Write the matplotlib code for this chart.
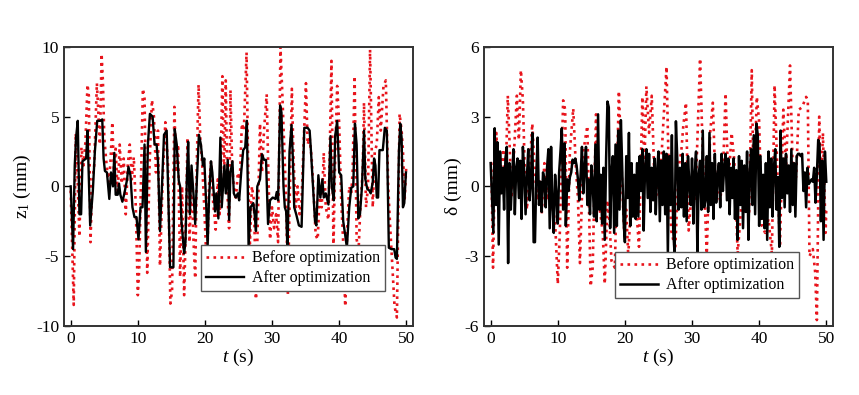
import numpy as np
import matplotlib
matplotlib.use("Agg")
import matplotlib.pyplot as plt

# ---- left panel: z1 (mm) ----
t_z_before = [0.0, 0.45, 0.75, 1.0, 1.3, 1.6, 1.9, 2.2, 2.5, 2.7,
              2.95, 3.2, 3.5, 3.9, 4.15, 4.35, 4.6, 4.8, 5.0, 5.3,
              5.6, 5.9, 6.2, 6.45, 6.7, 7.0, 7.3, 7.6, 7.9, 8.2,
              8.5, 8.8, 9.1, 9.4, 9.7, 10.0, 10.2, 10.45, 10.75, 11.0,
              11.4, 11.75, 12.1, 12.4, 12.7, 13.0, 13.3, 13.7, 14.1, 14.5,
              14.85, 15.1, 15.45, 15.7, 16.0, 16.3, 16.6, 16.9, 17.2, 17.4,
              17.7, 18.0, 18.25, 18.55, 18.8, 19.05, 19.3, 19.6, 19.9, 20.3,
              20.6, 20.9, 21.2, 21.6, 21.9, 22.2, 22.6, 22.85, 23.1, 23.35,
              23.6, 23.8, 24.05, 24.3, 24.6, 24.9, 25.2, 25.5, 25.8, 26.2,
              26.45, 26.7, 27.0, 27.3, 27.6, 27.9, 28.2, 28.5, 28.8, 29.2,
              29.4, 29.7, 30.0, 30.3, 30.6, 30.9, 31.25, 31.5, 31.8, 32.1,
              32.35, 32.7, 32.95, 33.2, 33.5, 33.8, 34.1, 34.4, 34.7, 35.05,
              35.3, 35.6, 35.9, 36.2, 36.5, 36.8, 37.1, 37.4, 37.7, 38.0,
              38.4, 38.85, 39.15, 39.4, 39.7, 40.0, 40.3, 40.6, 40.9, 41.2,
              41.5, 41.8, 42.0, 42.3, 42.6, 42.9, 43.2, 43.5, 43.7, 44.0,
              44.3, 44.6, 45.0, 45.3, 45.6, 45.9, 46.2, 46.6, 46.95, 47.3,
              47.6, 47.9, 48.25, 48.6, 49.0, 49.3, 49.5, 49.75, 50.0]
z_before = [-0.3, -8.5, 3.8, 0.9, -3.6, 2.8, 1.5, 3.2, 7.3, 6.5,
            -4.0, 0.2, 1.5, 7.4, 5.0, 3.0, 9.5, 7.5, 3.5, 1.8,
            0.3, 1.5, 4.6, 1.0, 2.7, -0.6, 3.0, 0.2, 2.0, -2.0,
            1.5, 3.0, 0.5, 2.1, -1.5, -7.8, -6.0, 0.0, 7.0, 6.3,
            -6.2, 1.5, 6.2, 5.0, 1.0, 4.0, -5.7, 0.5, 4.6, 1.5,
            -8.4, -7.5, 5.7, 1.0, 3.0, -6.5, 0.0, -7.8, -2.0, 3.5,
            -4.0, 1.0, -3.4, -6.6, 2.0, 7.3, 3.5, 1.5, -1.5, -6.2,
            0.0, 1.8, -1.0, -3.1, 0.5, -2.0, 7.9, 0.5, 7.6, -0.5,
            -3.0, 6.9, 1.5, 0.0, -1.0, 1.0, 0.5, 4.5, 4.0, 9.6,
            1.0, -4.1, 0.0, -1.0, -8.1, -2.0, 4.5, 1.0, 4.0, 6.6,
            2.0, -3.8, -1.5, -3.0, -2.0, -4.0, 10.0, 7.0, 3.0, -1.0,
            -7.8, 1.0, 7.0, 2.0, -1.5, 0.0, -2.0, -1.0, 3.0, 7.4,
            3.0, 3.5, 2.0, -0.5, -3.5, -3.8, -0.5, -1.5, 2.4, -1.5,
            -2.4, 9.0, -4.4, 2.0, 7.2, 4.5, -1.0, -4.0, -8.6, -3.0,
            0.0, -0.5, 1.0, 7.9, -3.8, -4.5, -1.0, 1.0, 6.0, -1.5,
            0.0, 9.8, -1.5, 2.5, 3.0, 6.4, 4.0, 7.2, 7.6, 0.0,
            -2.9, -5.5, -8.6, -9.4, 5.2, 4.0, 2.6, -1.0, 1.5]

t_z_after = [0.0, 0.35, 0.6, 0.8, 1.05, 1.3, 1.55, 1.75, 2.3, 2.5,
             2.9, 3.3, 3.6, 3.95, 4.4, 4.7, 4.9, 5.1, 5.4, 5.75,
             6.0, 6.3, 6.5, 6.7, 7.0, 7.2, 7.4, 7.7, 8.0, 8.4,
             8.6, 8.9, 9.2, 9.5, 9.8, 10.1, 10.4, 10.7, 11.0, 11.2,
             11.5, 11.8, 12.2, 12.5, 12.8, 13.0, 13.3, 13.6, 13.9, 14.3,
             14.6, 14.8, 15.3, 15.5, 15.8, 16.1, 16.3, 16.5, 16.9, 17.1,
             17.3, 17.5, 17.75, 18.0, 18.3, 18.55, 18.8, 19.1, 19.4, 19.7,
             19.9, 20.2, 20.4, 20.6, 20.9, 21.1, 21.5, 21.7, 22.0, 22.3,
             22.5, 22.7, 22.9, 23.1, 23.4, 23.6, 23.8, 24.1, 24.3, 24.6,
             24.9, 25.1, 25.4, 25.7, 26.0, 26.25, 26.5, 26.8, 27.2, 27.4,
             27.6, 27.8, 28.2, 28.5, 28.8, 29.1, 29.4, 29.7, 30.1, 30.5,
             30.7, 30.9, 31.2, 31.4, 31.7, 31.9, 32.1, 32.3, 32.6, 32.9,
             33.1, 33.3, 33.6, 34.0, 34.4, 34.8, 35.3, 35.6, 35.8, 36.1,
             36.4, 36.6, 36.9, 37.2, 37.5, 37.7, 38.0, 38.4, 38.7, 38.9,
             39.2, 39.4, 39.7, 40.0, 40.3, 40.6, 40.9, 41.15, 41.5, 41.8,
             42.1, 42.35, 42.6, 42.85, 43.1, 43.4, 43.7, 43.9, 44.2, 44.5,
             44.7, 45.0, 45.2, 45.4, 45.6, 45.8, 46.0, 46.5, 46.8, 47.1,
             47.4, 47.8, 48.2, 48.4, 48.6, 48.9, 49.1, 49.3, 49.5, 49.7, 49.95]
z_after = [0.0, -4.5, 1.5, 3.5, 4.7, -2.0, -2.0, 1.8, 2.0, 4.0,
           -2.8, -0.3, 2.5, 4.7, 4.7, 4.8, 2.0, 1.1, 1.0, -0.9,
           1.0, 0.0, 2.4, -0.6, -0.6, 0.2, -0.6, -1.1, -0.5, 0.5,
           1.4, 0.8, -1.5, -2.2, -2.2, -3.8, -1.5, -1.5, 3.0, -4.7,
           3.0, 5.2, 5.0, 3.0, 3.0, 1.8, -3.2, 0.0, 3.7, 4.0,
           -2.0, -5.8, -5.8, 4.1, 3.0, 0.4, 0.0, -2.5, -4.8, -4.0,
           0.5, 3.2, -2.0, 1.5, -0.6, -2.7, 0.5, 3.7, 3.0, 1.5,
           2.0, -1.5, -4.3, -1.0, 1.8, 1.0, -1.8, -0.5, -2.3, 3.5,
           -1.5, 0.0, 1.5, -0.5, 1.9, -2.4, 1.0, 1.8, -0.5, -0.8,
           -0.5, -1.0, 1.0, 2.6, 2.8, 4.7, -4.3, -1.5, -1.2, -2.0,
           -3.2, 0.0, 0.5, 2.3, 1.9, 1.9, -2.7, -1.0, -0.8, -0.9,
           -0.4, -1.0, 5.8, 5.3, 0.0, -1.5, -1.8, -4.6, 2.5, 4.4,
           2.0, -1.5, -2.0, -2.8, -2.9, 4.2, 4.2, 4.0, 2.5, 0.0,
           -2.5, -2.8, 0.8, -0.8, 0.5, -0.8, -0.5, -1.3, 3.6, 0.0,
           -1.0, 3.6, 4.7, 1.0, 0.8, -2.5, -3.5, -4.4, -1.5, -0.1,
           0.0, 4.5, 3.0, -2.3, -2.0, 0.0, 4.0, 0.5, -0.2, -0.3,
           -0.5, 0.3, 2.0, 1.5, -0.8, -0.8, 2.6, 2.6, 4.2, 4.0,
           -4.4, -4.5, -4.5, -5.1, -5.2, 2.5, 4.5, 3.5, -1.5, -1.2, 1.0]

# ---- right panel: delta (mm) ----
t_d_before = [0.0, 0.1, 0.35, 0.6, 0.85, 1.2, 1.5, 1.9, 2.2, 2.55,
              2.8, 3.1, 3.4, 3.9, 4.2, 4.5, 4.8, 5.1, 5.4, 5.8,
              6.2, 6.5, 6.9, 7.2, 7.6, 8.0, 8.4, 8.8, 9.2, 9.6,
              10.0, 10.3, 10.8, 11.1, 11.4, 11.8, 12.3, 12.7, 13.0, 13.3,
              13.8, 14.4, 14.9, 15.2, 15.7, 16.0, 16.4, 16.7, 17.0, 17.4,
              17.7, 18.0, 18.5, 19.1, 19.5, 19.9, 20.2, 20.5, 21.0, 21.5,
              22.1, 22.6, 22.9, 23.2, 23.6, 24.0, 24.5, 25.0, 25.3, 25.7,
              26.2, 26.5, 26.9, 27.5, 28.0, 28.4, 28.7, 29.1, 29.5, 30.0,
              30.5, 31.2, 31.6, 32.2, 32.7, 33.1, 33.5, 34.2, 34.6, 35.0,
              35.4, 35.9, 36.3, 36.8, 37.4, 38.1, 38.5, 38.9, 39.2, 39.65,
              40.0, 40.4, 40.9, 41.4, 41.9, 42.3, 42.7, 43.1, 43.6, 44.0,
              44.6, 45.0, 45.5, 45.9, 46.4, 47.0, 47.25, 47.5, 48.0, 48.35,
              48.6, 48.95, 49.2, 49.5, 49.9, 50.0]
d_before = [1.0, 1.0, -3.5, 0.5, 2.3, -0.5, 0.8, 1.6, 0.0, 3.9,
            2.0, -0.5, 1.0, 3.9, 2.0, 5.0, 3.7, 0.5, -1.0, 0.8,
            2.7, 1.0, -0.6, 0.3, -1.2, 1.0, -0.6, 0.8, -0.9, -1.5,
            -4.2, -2.0, 3.7, 3.3, -3.5, 1.5, 3.35, 0.8, -0.5, -3.3,
            1.5, 2.6, -4.3, -3.5, 3.1, -0.5, -1.3, -2.0, -4.2, -0.6,
            -1.5, -3.2, -3.5, 4.1, 0.8, -2.0, -1.0, -3.0, -0.1, -0.2,
            -2.6, 3.85, 0.8, 4.3, 2.3, 3.9, -0.6, 0.0, 0.5, 2.6,
            5.15, 1.0, -1.9, -2.7, 0.8, 1.5, 2.6, 3.6, -1.9, 0.0,
            -0.6, 5.5, 1.4, -2.9, 2.3, 3.6, 0.0, -0.6, 0.5, 4.0,
            0.0, 2.3, 1.1, -2.9, -0.6, 0.0, -1.2, 5.0, -0.6, 3.85,
            2.8, -1.7, -2.0, -1.4, -2.9, 4.35, 0.8, -2.6, 3.3, 0.8,
            5.2, 0.8, 0.4, 3.3, 3.4, 3.85, 3.7, -3.0, -2.7, -3.7,
            -5.75, 3.0, -0.6, 2.3, -2.0, -1.0]

# after optimization, sampled every 0.2 s from 0 to 50 s
d_after = [1.0, -0.5, -2.0, 2.5, -0.8, 1.9, -2.5, 1.5, -0.3, 0.8,
           -1.0, 1.2, 1.7, -3.3, 1.0, -1.0, 0.5, 1.6, -1.2, 0.8,
           1.2, -0.5, 1.1, -1.4, 1.7, 0.6, -1.2, 0.4, 1.6, -0.6,
           0.2, 2.3, -2.4, -2.4, 0.5, 2.1, -0.8, 0.2, -1.1, 0.6,
           0.3, -0.9, 0.8, 1.6, -1.8, 1.7, -0.8, -2.0, 0.5, -0.4,
           -1.6, 0.6, 1.5, 2.5, -1.0, 1.85, -1.7, 0.3, -0.2, 0.4,
           0.6, 1.15, 1.0, 1.2, 0.9, 0.3, -0.6, 0.5, 1.7, -0.3,
           0.8, 1.7, -0.8, 0.3, -1.2, 0.9, 0.1, -1.3, 1.8, -1.5,
           3.1, -1.0, 0.5, -1.6, 0.8, -2.3, 1.2, 3.65, 3.4, -1.8,
           0.6, 1.3, -2.0, 1.8, -1.7, 2.4, -1.0, 2.85, 0.8, -1.5,
           -2.4, 1.3, -0.5, 2.3, -1.7, 1.0, -1.3, 0.5, -1.4, 1.0,
           -1.3, 1.3, -0.2, 1.6, -1.9, 0.8, 1.6, -0.5, 1.4, -1.1,
           0.8, -0.6, 1.2, -1.2, 0.7, 1.5, -1.5, 1.1, -0.8, 1.5,
           -1.2, 1.4, -2.9, 1.3, -0.8, 2.2, -1.9, -2.9, 2.8, 1.2,
           -1.0, 0.8, -0.9, 1.4, -1.3, 1.0, -1.5, 1.3, 0.1, -0.8,
           1.2, -1.6, 0.6, 1.5, -2.9, 0.5, 1.1, -1.0, 2.4, -0.9,
           -0.6, 1.3, -1.1, 2.3, -0.8, 1.0, -1.4, 1.4, -0.7, 0.4,
           1.0, -0.9, 1.4, -0.2, 0.9, 1.4, -0.6, 1.2, -1.2, 0.8,
           -0.5, 1.2, -1.4, 0.7, -2.3, 1.3, -0.8, 1.1, -1.8, 0.9,
           -1.1, 1.5, -2.3, 0.5, 1.6, -0.8, 2.2, -1.2, 2.7, 2.2,
           -1.7, 1.3, -1.4, 0.5, -1.8, 1.0, -2.3, 1.5, -0.9, 1.2,
           -1.3, 0.8, 1.6, -1.0, 0.4, -2.6, 2.4, -0.5, 1.2, -0.9,
           1.4, -0.3, 0.9, -1.1, 1.6, -0.8, 1.0, -1.3, 1.3, 1.4,
           1.4, 1.3, 1.4, -0.2, 0.6, -0.9, 0.8, 0.1, 0.2, 0.3,
           0.2, 0.8, -0.7, 0.5, 2.0, 1.8, -1.5, 1.1, -2.3, 1.5,
           0.2]
t_d_after = np.linspace(0, 50, len(d_after))

plt.rcParams['font.family'] = ['Liberation Serif', 'DejaVu Serif']
plt.rcParams['mathtext.fontset'] = 'custom'
plt.rcParams['mathtext.rm'] = 'Liberation Serif'
plt.rcParams['mathtext.it'] = 'Liberation Serif:italic'
plt.rcParams['axes.unicode_minus'] = False

fig = plt.figure(figsize=(8.59, 3.95), dpi=100)
ax1 = fig.add_axes([0.0745, 0.175, 0.4063, 0.7063])
ax2 = fig.add_axes([0.5634, 0.175, 0.4063, 0.7063])

red = '#e8141c'
panels = [
    (ax1, t_z_before, z_before, t_z_after, z_after, 10, [-10, -5, 0, 5, 10],
     r'$\mathrm{z}_1$ (mm)', (0.92, 0.125), 1.7),
    (ax2, t_d_before, d_before, t_d_after, d_after, 6, [-6, -3, 0, 3, 6],
     'δ (mm)', (0.903, 0.10), 1.8),
]
for ax, tb, yb, ta, ya, lim, yt, ylab, anchor, lw_a in panels:
    ax.plot(tb, yb, color=red, ls=':', lw=1.9, label='Before optimization')
    ax.plot(ta, ya, color='black', lw=lw_a, label='After optimization')
    ax.set_xlim(-1, 51)
    ax.set_ylim(-lim, lim)
    ax.set_xticks([0, 10, 20, 30, 40, 50])
    ax.set_yticks(yt)
    ax.tick_params(direction='in', length=4, width=1, labelsize=12.5,
                   colors='black')
    for s in ax.spines.values():
        s.set_linewidth(1.4)
        s.set_color('#333333')
    ax.set_xlabel(r'$t$ (s)', fontsize=14, labelpad=0)
    ax.set_ylabel(ylab, fontsize=14, labelpad=2)
    leg = ax.legend(loc='lower right', bbox_to_anchor=anchor, borderaxespad=0,
                    fontsize=11.5, handlelength=2.4, labelspacing=0.25,
                    borderpad=0.3, handletextpad=0.5, fancybox=False,
                    framealpha=1)
    leg.get_frame().set_edgecolor('#555555')
    leg.get_frame().set_linewidth(1.0)

fig.savefig('out.png', dpi=100)
